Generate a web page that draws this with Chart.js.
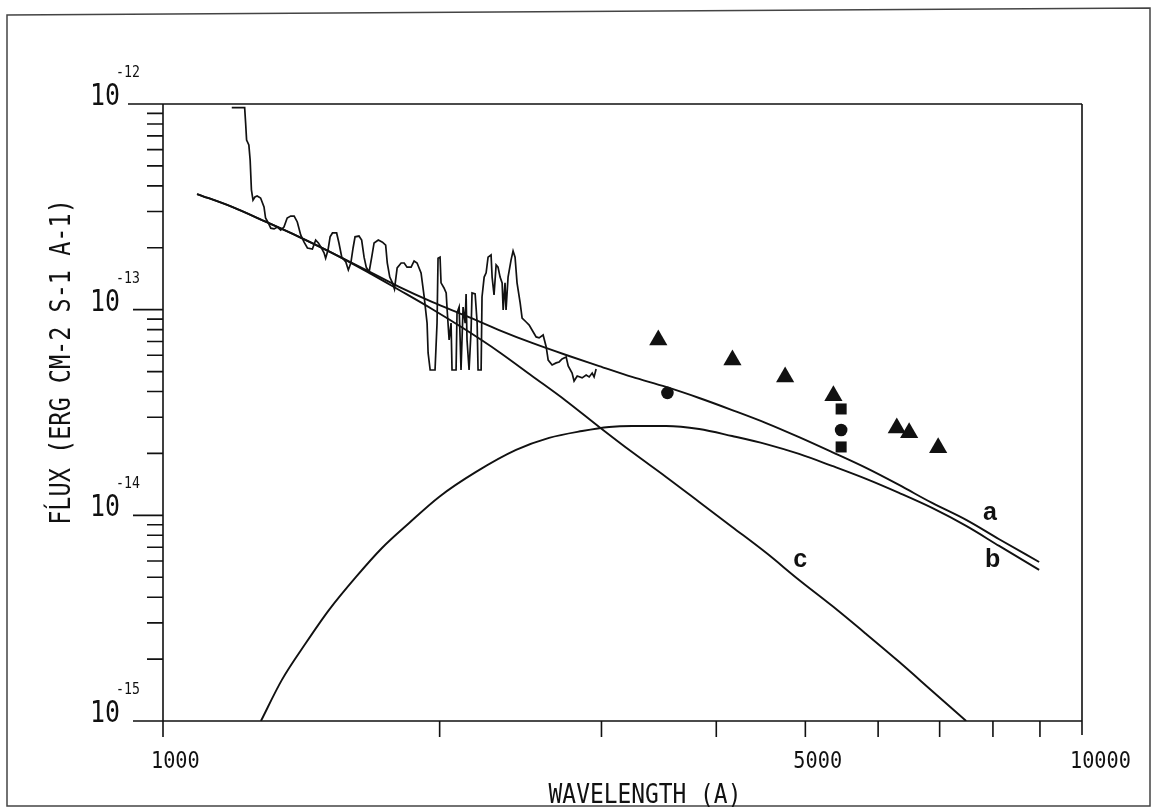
<!DOCTYPE html>
<html>
<head>
<meta charset="utf-8">
<script src="https://cdn.jsdelivr.net/npm/chart.js@4.4.1/dist/chart.umd.min.js"></script>
<style>
  html, body { margin: 0; padding: 0; background: #fff; }
  #wrap { width: 1154px; height: 808px; }
</style>
</head>
<body>
<div id="wrap"><canvas id="sedChart" width="1154" height="808"></canvas></div>
<script>
const specWave = [
  1188, 1227, 1230, 1233, 1240, 1244, 1248, 1253, 1259, 1266,
  1277, 1288, 1293, 1302, 1310, 1321, 1332, 1343, 1354, 1365,
  1377, 1389, 1400, 1412, 1424, 1436, 1454, 1466, 1476, 1485,
  1497, 1503, 1512, 1520, 1529, 1545, 1554, 1565, 1581, 1591,
  1601, 1610, 1618, 1634, 1645, 1655, 1664, 1676, 1687, 1697,
  1715, 1733, 1747, 1754, 1765, 1777, 1786, 1798, 1816, 1830,
  1843, 1862, 1876, 1890, 1909, 1924, 1938, 1943, 1953, 1977,
  1987, 1992, 2002, 2007, 2022, 2033, 2038, 2048, 2058, 2063,
  2084, 2089, 2100, 2105, 2110, 2121, 2132, 2137, 2142, 2153,
  2164, 2169, 2186, 2197, 2202, 2219, 2224, 2236, 2247, 2258,
  2275, 2281, 2292, 2304, 2315, 2327, 2339, 2345, 2356, 2362,
  2374, 2392, 2404, 2416, 2428, 2447, 2459, 2484, 2503, 2521,
  2547, 2566, 2592, 2612, 2625, 2651, 2678, 2698, 2718, 2746,
  2760, 2787, 2801, 2823, 2858, 2887, 2909, 2931, 2945, 2960
];
const specFlux = [
  9.60e-13, 9.60e-13, 8.08e-13, 6.68e-13, 6.32e-13, 5.34e-13, 3.82e-13, 3.41e-13, 3.53e-13, 3.57e-13,
  3.49e-13, 3.16e-13, 2.79e-13, 2.64e-13, 2.49e-13, 2.47e-13, 2.52e-13, 2.44e-13, 2.52e-13, 2.79e-13,
  2.85e-13, 2.85e-13, 2.67e-13, 2.31e-13, 2.13e-13, 1.995e-13, 1.97e-13, 2.18e-13, 2.11e-13, 2.02e-13,
  1.89e-13, 1.78e-13, 1.95e-13, 2.26e-13, 2.36e-13, 2.36e-13, 2.11e-13, 1.80e-13, 1.705e-13, 1.56e-13,
  1.686e-13, 1.995e-13, 2.26e-13, 2.28e-13, 2.18e-13, 1.80e-13, 1.61e-13, 1.525e-13, 1.80e-13, 2.11e-13,
  2.18e-13, 2.13e-13, 2.06e-13, 1.686e-13, 1.44e-13, 1.35e-13, 1.26e-13, 1.595e-13, 1.686e-13, 1.686e-13,
  1.61e-13, 1.61e-13, 1.725e-13, 1.686e-13, 1.51e-13, 1.153e-13, 8.61e-14, 6.16e-14, 5.09e-14, 5.09e-14,
  8.61e-14, 1.78e-13, 1.80e-13, 1.35e-13, 1.275e-13, 1.206e-13, 9.97e-14, 7.12e-14, 8.61e-14, 5.09e-14,
  5.09e-14, 9.64e-14, 1.03e-13, 7.37e-14, 5.09e-14, 1.03e-13, 8.61e-14, 1.192e-13, 7.12e-14, 5.09e-14,
  7.96e-14, 1.206e-13, 1.192e-13, 8.61e-14, 5.09e-14, 5.09e-14, 1.153e-13, 1.44e-13, 1.51e-13, 1.80e-13,
  1.845e-13, 1.44e-13, 1.179e-13, 1.65e-13, 1.61e-13, 1.44e-13, 1.35e-13, 9.97e-14, 1.35e-13, 9.97e-14,
  1.44e-13, 1.745e-13, 1.93e-13, 1.80e-13, 1.35e-13, 1.078e-13, 9.11e-14, 8.71e-14, 8.42e-14, 7.96e-14,
  7.37e-14, 7.29e-14, 7.53e-14, 6.59e-14, 5.69e-14, 5.38e-14, 5.51e-14, 5.57e-14, 5.76e-14, 5.89e-14,
  5.32e-14, 4.92e-14, 4.50e-14, 4.76e-14, 4.66e-14, 4.81e-14, 4.71e-14, 4.92e-14, 4.71e-14, 5.15e-14
];

// model curves a (total), b and c
const waveA = [1089, 1189, 1295, 1406, 1527, 1663, 1807, 1962, 2137, 2321, 2521, 2746, 2983,
  3239, 3527, 3832, 4162, 4532, 4922, 5346, 5822, 6323, 6869, 7481, 8126, 8982];
const fluxA = [3.65e-13, 3.16e-13, 2.67e-13, 2.26e-13, 1.89e-13, 1.56e-13, 1.29e-13, 1.09e-13, 9.32e-14,
  7.96e-14, 6.89e-14, 6.02e-14, 5.32e-14, 4.71e-14, 4.21e-14, 3.72e-14, 3.25e-14, 2.81e-14, 2.40e-14,
  2.03e-14, 1.70e-14, 1.405e-14, 1.149e-14, 9.50e-15, 7.65e-15, 5.93e-15];

const waveB = [1278, 1347, 1431, 1516, 1622, 1731, 1853, 1997, 2191, 2422, 2631, 2858, 3058,
  3239, 3527, 3832, 4162, 4532, 4922, 5346, 5822, 6323, 6869, 7481, 8126, 8982];
const fluxB = [1.00e-15, 1.585e-15, 2.40e-15, 3.47e-15, 5.02e-15, 6.94e-15, 9.18e-15, 1.229e-14, 1.626e-14,
  2.08e-14, 2.38e-14, 2.57e-14, 2.69e-14, 2.72e-14, 2.72e-14, 2.63e-14, 2.43e-14, 2.22e-14, 1.988e-14,
  1.738e-14, 1.503e-14, 1.285e-14, 1.086e-14, 8.88e-15, 7.10e-15, 5.43e-15];

const waveC = [1089, 1189, 1295, 1406, 1527, 1663, 1807, 1962, 2137, 2321, 2521, 2746, 2983,
  3239, 3527, 3832, 4162, 4532, 4922, 5346, 5822, 6323, 6869, 7481];
const fluxC = [3.65e-13, 3.16e-13, 2.67e-13, 2.26e-13, 1.89e-13, 1.54e-13, 1.247e-13, 1.008e-13, 7.96e-14,
  6.23e-14, 4.76e-14, 3.60e-14, 2.69e-14, 2.03e-14, 1.537e-14, 1.162e-14, 8.78e-15, 6.57e-15, 4.85e-15,
  3.63e-15, 2.65e-15, 1.94e-15, 1.40e-15, 1.00e-15];

// photometry
const triWave = [3459, 4165, 4753, 5364, 6287, 6485, 6974];
const triFlux = [7.12e-14, 5.69e-14, 4.71e-14, 3.81e-14, 2.66e-14, 2.52e-14, 2.13e-14];
const dotWave = [3539, 5469];
const dotFlux = [3.94e-14, 2.60e-14];
const sqWave = [5469, 5469];
const sqFlux = [3.29e-14, 2.15e-14];

// axes
const xTickLabels = [1000, 5000, 10000];
const yDecades = [1e-15, 1e-14, 1e-13, 1e-12];
const yExponents = ['-15', '-14', '-13', '-12'];
const curveNames = ['a', 'b', 'c'];
const curveNameAt = [[7803, 9.50e-15], [7843, 5.61e-15], [4850, 5.61e-15]];

const pts = (w, f) => w.map((v, i) => ({ x: v, y: f[i] }));
const INK = '#111';

function plotText(ctx, txt, x, y, size, sx, align) {
  ctx.save();
  ctx.font = size + 'px "DejaVu Sans Mono"';
  ctx.textAlign = align;
  ctx.textBaseline = 'alphabetic';
  ctx.fillStyle = INK;
  ctx.translate(x, y);
  ctx.scale(sx, 1);
  ctx.fillText(txt, 0, 0);
  ctx.restore();
}

// frame, ticks and labels drawn like the old plotter output
const plotterAxes = {
  id: 'plotterAxes',
  afterDraw(chart) {
    const ctx = chart.ctx;
    const xs = chart.scales.x, ys = chart.scales.y;
    const { left: L, right: R, top: T, bottom: B } = chart.chartArea;
    ctx.save();
    ctx.strokeStyle = INK;
    ctx.lineWidth = 1.6;
    ctx.lineCap = 'butt';

    ctx.beginPath();
    ctx.moveTo(L - 35, T); ctx.lineTo(R, T);
    ctx.moveTo(L, T); ctx.lineTo(L, B + 16);
    ctx.moveTo(L - 30, B); ctx.lineTo(R, B);
    ctx.moveTo(R, T); ctx.lineTo(R, B + 14);

    yDecades.forEach((d, i) => {
      const py = ys.getPixelForValue(d);
      ctx.moveTo(L - 30, py); ctx.lineTo(L, py);
      if (i < yDecades.length - 1) {
        for (let m = 2; m <= 9; m++) {
          const my = ys.getPixelForValue(m * d);
          ctx.moveTo(L - 16, my); ctx.lineTo(L, my);
        }
      }
    });
    for (let v = 2000; v <= 9000; v += 1000) {
      const px = xs.getPixelForValue(v);
      ctx.moveTo(px, B); ctx.lineTo(px, B + 16);
    }
    ctx.stroke();

    // page border
    ctx.lineWidth = 1.5;
    ctx.strokeStyle = '#444';
    ctx.beginPath();
    ctx.moveTo(7, 806); ctx.lineTo(7, 15); ctx.lineTo(1150, 8); ctx.lineTo(1150, 806); ctx.closePath();
    ctx.stroke();

    // y tick labels 10 with exponent
    yDecades.forEach((d, i) => {
      const py = ys.getPixelForValue(d);
      plotText(ctx, '10', 120, py + 1, 30, 0.83, 'right');
      plotText(ctx, yExponents[i], 116, py - 27, 15, 0.88, 'left');
    });
    // x tick labels
    xTickLabels.forEach(v => {
      plotText(ctx, String(v), xs.getPixelForValue(v) - 12, B + 47, 23, 0.88, 'left');
    });

    // axis titles
    plotText(ctx, 'WAVELENGTH (A)', 645, 803, 26, 0.88, 'center');
    ctx.save();
    ctx.translate(70, 362);
    ctx.rotate(-Math.PI / 2);
    plotText(ctx, 'FĹUX (ERG CM-2 S-1 A-1)', 0, 0, 27.5, 0.855, 'center');
    ctx.restore();

    // curve names
    ctx.font = 'bold 25px "Liberation Sans", Arial, sans-serif';
    ctx.fillStyle = INK;
    ctx.textAlign = 'left';
    ctx.textBaseline = 'alphabetic';
    curveNames.forEach((n, i) => {
      ctx.fillText(n, xs.getPixelForValue(curveNameAt[i][0]), ys.getPixelForValue(curveNameAt[i][1]));
    });
    ctx.restore();
  }
};

const lineSet = (data, w, smooth) => ({
  data, showLine: true, borderColor: INK, borderWidth: w, pointRadius: 0,
  cubicInterpolationMode: smooth ? 'monotone' : 'default', tension: 0, fill: false
});

new Chart(document.getElementById('sedChart').getContext('2d'), {
  type: 'scatter',
  data: {
    datasets: [
      lineSet(pts(specWave, specFlux), 1.7, false),
      lineSet(pts(waveA, fluxA), 1.9, true),
      lineSet(pts(waveB, fluxB), 1.9, true),
      lineSet(pts(waveC, fluxC), 1.9, true),
      { data: pts(triWave, triFlux), pointStyle: 'triangle', pointRadius: 10.5,
        backgroundColor: INK, borderColor: INK, borderWidth: 0 },
      { data: pts(dotWave, dotFlux), pointStyle: 'circle', pointRadius: 6.3,
        backgroundColor: INK, borderColor: INK, borderWidth: 0 },
      { data: pts(sqWave, sqFlux), pointStyle: 'rect', pointRadius: 7.8,
        backgroundColor: INK, borderColor: INK, borderWidth: 0 }
    ]
  },
  options: {
    responsive: false,
    animation: false,
    devicePixelRatio: 1,
    layout: { padding: { left: 163, right: 72, top: 104, bottom: 87 } },
    plugins: { legend: { display: false }, tooltip: { enabled: false } },
    scales: {
      x: { type: 'logarithmic', min: 1000, max: 10000, display: false },
      y: { type: 'logarithmic', min: 1e-15, max: 1e-12, display: false }
    }
  },
  plugins: [plotterAxes]
});
</script>
</body>
</html>
